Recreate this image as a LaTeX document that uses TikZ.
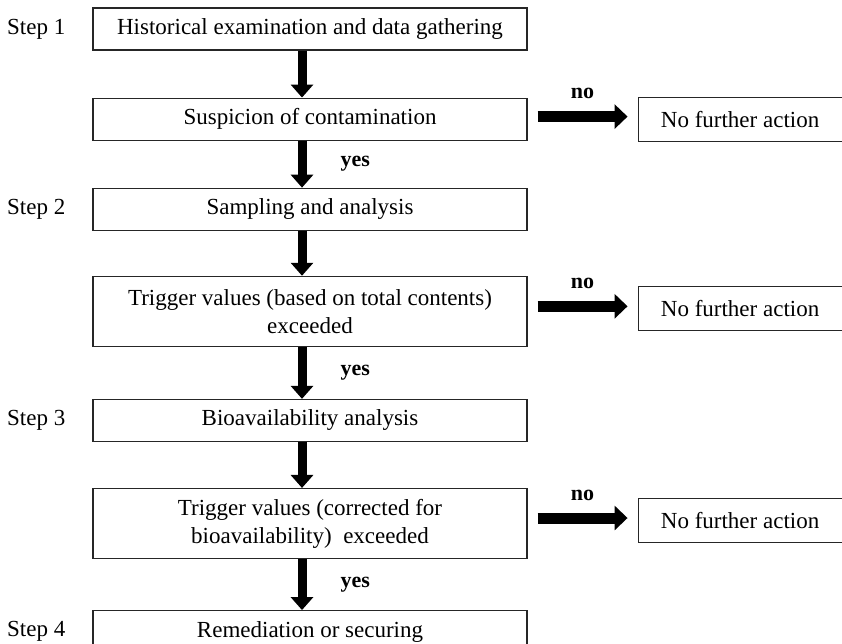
\documentclass[tikz,border=0pt]{standalone}
\usepackage{fontspec}
\setmainfont{Liberation Serif}
\usetikzlibrary{positioning,arrows.meta}

\begin{document}
\begin{tikzpicture}[x=1pt, y=-1pt,
    node distance=47pt,
    block/.style={rectangle, draw=black!85, line width=1.1pt, text=black, minimum height=42pt, minimum width=434pt, align=center, font=\fontsize{23}{28}\selectfont},
    tallblock/.style={block, minimum height=70pt},
    endblock/.style={block, minimum width=204pt, minimum height=44pt},
    steplabel/.style={inner sep=0pt, font=\fontsize{23}{28}\selectfont},
    answer/.style={inner sep=0pt, font=\fontsize{22}{27}\selectfont\bfseries},
    downarrow/.style={-{Triangle[width=22pt, length=13pt]}, line width=9pt},
    sidearrow/.style={-{Triangle[width=24pt, length=13pt]}, line width=11pt}
]
\useasboundingbox (0,0) rectangle (842,643);

\node[block] (history) at (310,29) {Historical examination and data gathering};
\node[block, below=47pt of history] (suspicion) {Suspicion of contamination};
\node[block, below=47pt of suspicion] (sampling) {Sampling and analysis};
\node[tallblock, below=45pt of sampling] (total) {Trigger values (based on total contents)\\exceeded};
\node[block, below=52pt of total] (bioanalysis) {Bioavailability analysis};
\node[tallblock, below=46pt of bioanalysis] (corrected) {Trigger values (corrected for\\bioavailability) \ exceeded};
\node[block, below=51pt of corrected] (remediation) {Remediation or securing};

\node[endblock, right=110pt of suspicion] (stop1) {No further action};
\node[endblock, right=110pt of total, yshift=2.5pt] (stop2) {No further action};
\node[endblock, right=110pt of corrected, yshift=3pt] (stop3) {No further action};

\node[steplabel, left=27pt of history] (step1) {Step 1};
\node[steplabel, left=27pt of sampling] (step2) {Step 2};
\node[steplabel, left=27pt of bioanalysis] (step3) {Step 3};
\node[steplabel, left=27pt of remediation] (step4) {Step 4};

\draw[downarrow] ([xshift=-8pt]history.south) -- ([xshift=-8pt]suspicion.north);
\draw[downarrow] ([xshift=-8pt]suspicion.south) -- ([xshift=-8pt]sampling.north) node[midway, answer, right=34pt] {yes};
\draw[downarrow] ([xshift=-8pt]sampling.south) -- ([xshift=-8pt]total.north);
\draw[downarrow] ([xshift=-8pt]total.south) -- ([xshift=-8pt]bioanalysis.north) node[midway, answer, right=34pt] {yes};
\draw[downarrow] ([xshift=-8pt]bioanalysis.south) -- ([xshift=-8pt]corrected.north);
\draw[downarrow] ([xshift=-8pt]corrected.south) -- ([xshift=-8pt]remediation.north) node[midway, answer, right=34pt] {yes};

\draw[sidearrow] ([xshift=10pt, yshift=2.5pt]suspicion.east |- stop1.west) -- ([xshift=-10pt, yshift=2.5pt]stop1.west) node[midway, answer, above=12pt] {no};
\draw[sidearrow] ([xshift=10pt, yshift=2.5pt]total.east |- stop2.west) -- ([xshift=-10pt, yshift=2.5pt]stop2.west) node[midway, answer, above=12pt] {no};
\draw[sidearrow] ([xshift=10pt, yshift=2.5pt]corrected.east |- stop3.west) -- ([xshift=-10pt, yshift=2.5pt]stop3.west) node[midway, answer, above=12pt] {no};
\end{tikzpicture}
\end{document}
